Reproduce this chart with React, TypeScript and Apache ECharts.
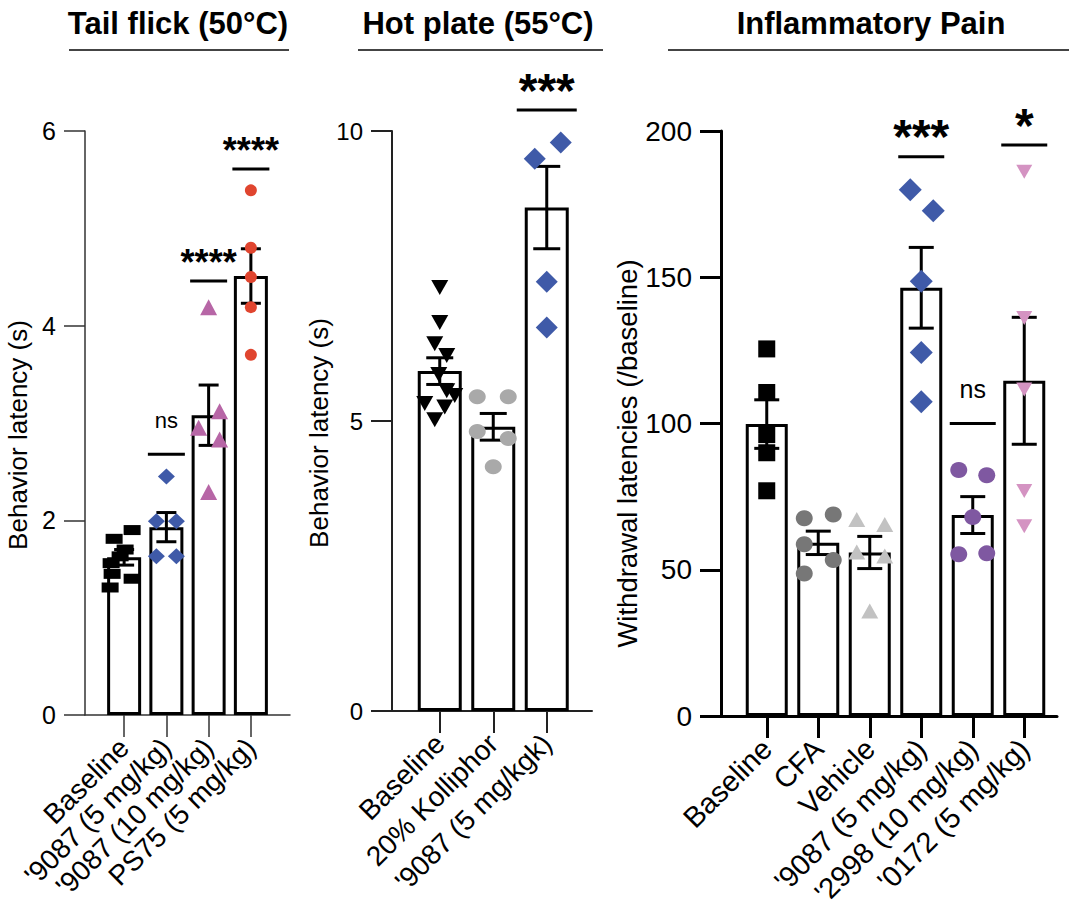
import React, { useEffect, useRef } from "react";
import * as echarts from "echarts";

const FONT = "'Liberation Sans', Arial, Helvetica, sans-serif";

// ---------- Tail flick (50°C) ----------
const tailCategories = ["Baseline", "'9087 (5 mg/kg)", "'9087 (10 mg/kg)", "PS75 (5 mg/kg)"];
const tailMeans = [1.62, 1.93, 3.08, 4.51];
const tailSEM = [0.08, 0.15, 0.31, 0.28];
const tailBaseline = [1.9, 1.81, 1.7, 1.63, 1.56, 1.45, 1.4, 1.31];
const tailBaselineJitter = [8, -10, 1, -4, -13, -12, 8, -14];
const tail9087Low = [2.45, 1.99, 1.99, 1.63, 1.63];
const tail9087LowJitter = [0, -10, 10, -10, 10];
const tail9087High = [4.19, 3.12, 2.95, 2.83, 2.29];
const tail9087HighJitter = [0, 11, -10, 11, 0];
const tailPS75 = [5.39, 4.8, 4.5, 4.19, 3.7];
const tailPS75Jitter = [0, 0, 0, 0, 0];
const tailSigIndex = [1, 2, 3];
const tailSigHeight = [2.68, 4.46, 5.61];
const tailSigLabels = ["ns", "****", "****"];

// ---------- Hot plate (55°C) ----------
const hotCategories = ["Baseline", "20% Kolliphor", "'9087 (5 mg/kgk)"];
const hotMeans = [5.86, 4.9, 8.68];
const hotSEM = [0.23, 0.23, 0.71];
const hotBaseline = [7.3, 6.7, 6.33, 6.13, 5.8, 5.52, 5.44, 5.3, 5.24, 5.02];
const hotBaselineJitter = [0, 0, -5, 7, -1, 7, 15, -15, 5, -5];
const hotKolliphor = [5.42, 5.42, 4.82, 4.7, 4.21];
const hotKolliphorJitter = [-16, 15, -16, 15, 0];
const hot9087 = [9.8, 9.52, 7.4, 6.61];
const hot9087Jitter = [14, -12, 0, 0];
const hotSigIndex = [2];
const hotSigHeight = [10.36];
const hotSigLabels = ["***"];

// ---------- Inflammatory Pain ----------
const inflCategories = ["Baseline", "CFA", "Vehicle", "'9087 (5 mg/kg)", "'2998 (10 mg/kg)", "'0172 (5 mg/kg)"];
const inflMeans = [99.8, 59.2, 55.9, 146.4, 68.7, 114.6];
const inflSEM = [8.3, 4.0, 5.5, 13.8, 6.3, 21.7];
const inflBaseline = [125.5, 110.6, 96.2, 90.0, 77.0];
const inflBaselineJitter = [0, 0, 0, 0, 0];
const inflCFA = [68.9, 67.6, 58.7, 53.3, 48.7];
const inflCFAJitter = [15, -14, -14, 15, -14];
const inflVehicle = [67.2, 65.5, 56.1, 54.7, 35.9];
const inflVehicleJitter = [-13, 15, -13, 15, 0];
const infl9087 = [179.9, 172.7, 148.6, 124.3, 107.4];
const infl9087Jitter = [-11, 12, 0, 0, 0];
const infl2998 = [84.1, 82.3, 68.0, 55.3, 55.6];
const infl2998Jitter = [-14, 14, 0, -14, 14];
const infl0172 = [186.1, 136.1, 111.6, 76.9, 64.9];
const infl0172Jitter = [0, 0, 0, 0, 0];
const inflSigIndex = [3, 4, 5];
const inflSigHeight = [191.2, 100, 195.2];
const inflSigLabels = ["***", "ns", "*"];

const panelTitles = ["Tail flick (50°C)", "Hot plate (55°C)", "Inflammatory Pain"];

interface Group {
  values: number[];
  jitter: number[];
  symbol: string;
  size: number | number[];
  color: string;
  rotate?: number;
}

interface PanelCfg {
  categories: string[];
  means: number[];
  sem: number[];
  groups: Group[];
  sigIndex: number[];
  sigHeight: number[];
  sigLabels: string[];
  yMax: number;
  yInterval: number;
  yName: string;
  axisX: number;
  axisEnd: number;
  catLeft: number;
  catWidth: number;
  top: number;
  bottom: number;
  axisColor: string;
  axisWidth: number;
  tickFont: number;
  nameFont: number;
  nameGap: number;
  nameShift: number;
  catFont: number;
  barWidth: number;
  capWidth: number;
  sigWidth: number;
  starFont: number;
  nsFont: number;
  starGap: number;
  nsGap: number;
  titleX: number;
  lineX1: number;
  lineX2: number;
}

const panels: PanelCfg[] = [
  {
    categories: tailCategories,
    means: tailMeans,
    sem: tailSEM,
    groups: [
      { values: tailBaseline, jitter: tailBaselineJitter, symbol: "rect", size: [17, 10], color: "#000000" },
      { values: tail9087Low, jitter: tail9087LowJitter, symbol: "diamond", size: [17, 16], color: "#3F5AA8" },
      { values: tail9087High, jitter: tail9087HighJitter, symbol: "triangle", size: [17, 16], color: "#B766A6" },
      { values: tailPS75, jitter: tailPS75Jitter, symbol: "circle", size: 12, color: "#E0452F" },
    ],
    sigIndex: tailSigIndex,
    sigHeight: tailSigHeight,
    sigLabels: tailSigLabels,
    yMax: 6,
    yInterval: 2,
    yName: "Behavior latency (s)",
    axisX: 85,
    axisEnd: 290,
    catLeft: 103,
    catWidth: 169,
    top: 131,
    bottom: 715,
    axisColor: "#333333",
    axisWidth: 1.5,
    tickFont: 25,
    nameFont: 26,
    nameGap: 54,
    nameShift: 12,
    catFont: 28,
    barWidth: 34,
    capWidth: 20,
    sigWidth: 37,
    starFont: 36,
    nsFont: 22,
    starGap: 18,
    nsGap: 34,
    titleX: 178,
    lineX1: 69,
    lineX2: 289,
  },
  {
    categories: hotCategories,
    means: hotMeans,
    sem: hotSEM,
    groups: [
      { values: hotBaseline, jitter: hotBaselineJitter, symbol: "triangle", size: [17, 15], color: "#000000", rotate: 180 },
      { values: hotKolliphor, jitter: hotKolliphorJitter, symbol: "circle", size: [17, 15], color: "#A9A9A9" },
      { values: hot9087, jitter: hot9087Jitter, symbol: "diamond", size: 22, color: "#3F5AA8" },
    ],
    sigIndex: hotSigIndex,
    sigHeight: hotSigHeight,
    sigLabels: hotSigLabels,
    yMax: 10,
    yInterval: 5,
    yName: "Behavior latency (s)",
    axisX: 392,
    axisEnd: 592,
    catLeft: 413,
    catWidth: 160.5,
    top: 131,
    bottom: 711,
    axisColor: "#222222",
    axisWidth: 2,
    tickFont: 24,
    nameFont: 26,
    nameGap: 54,
    nameShift: 12,
    catFont: 28,
    barWidth: 44,
    capWidth: 27,
    sigWidth: 60,
    starFont: 48,
    nsFont: 24,
    starGap: 20,
    nsGap: 35,
    titleX: 478,
    lineX1: 358,
    lineX2: 603,
  },
  {
    categories: inflCategories,
    means: inflMeans,
    sem: inflSEM,
    groups: [
      { values: inflBaseline, jitter: inflBaselineJitter, symbol: "rect", size: 17, color: "#000000" },
      { values: inflCFA, jitter: inflCFAJitter, symbol: "circle", size: [17, 16], color: "#777777" },
      { values: inflVehicle, jitter: inflVehicleJitter, symbol: "triangle", size: [17, 15], color: "#C2C2C2" },
      { values: infl9087, jitter: infl9087Jitter, symbol: "diamond", size: 23, color: "#3F5AA8" },
      { values: infl2998, jitter: infl2998Jitter, symbol: "circle", size: [17, 16], color: "#7F58A1" },
      { values: infl0172, jitter: infl0172Jitter, symbol: "triangle", size: [16, 14], color: "#D493C2", rotate: 180 },
    ],
    sigIndex: inflSigIndex,
    sigHeight: inflSigHeight,
    sigLabels: inflSigLabels,
    yMax: 200,
    yInterval: 50,
    yName: "Withdrawal latencies (/baseline)",
    axisX: 721,
    axisEnd: 1057,
    catLeft: 741,
    catWidth: 309,
    top: 131,
    bottom: 716,
    axisColor: "#000000",
    axisWidth: 3,
    tickFont: 28,
    nameFont: 27.5,
    nameGap: 80,
    nameShift: 30,
    catFont: 29,
    barWidth: 42,
    capWidth: 25,
    sigWidth: 46,
    starFont: 48,
    nsFont: 25,
    starGap: 20,
    nsGap: 35,
    titleX: 871,
    lineX1: 668,
    lineX2: 1069,
  },
];

function buildOption() {
  const grid: any[] = [];
  const xAxis: any[] = [];
  const yAxis: any[] = [];
  const series: any[] = [];
  const graphic: any[] = [];

  panels.forEach((p, k) => {
    const main = 2 * k;
    const ax = 2 * k + 1;
    const height = p.bottom - p.top;
    const axisLineStyle = { color: p.axisColor, width: p.axisWidth };

    grid.push({ left: p.catLeft, top: p.top, width: p.catWidth, height, outerBoundsMode: "none", containLabel: false });
    grid.push({ left: p.axisX, top: p.top, width: p.axisEnd - p.axisX, height, outerBoundsMode: "none", containLabel: false });

    xAxis.push({
      type: "category",
      gridIndex: main,
      data: p.categories,
      axisLine: { show: false },
      axisTick: { show: true, alignWithLabel: true, length: 22, lineStyle: axisLineStyle },
      axisLabel: {
        rotate: 45,
        interval: 0,
        hideOverlap: false,
        margin: 28,
        fontSize: p.catFont,
        fontFamily: FONT,
        color: "#000",
      },
      splitLine: { show: false },
    });
    xAxis.push({
      type: "value",
      gridIndex: ax,
      min: 0,
      max: 1,
      axisLine: { show: true, onZero: false, lineStyle: axisLineStyle },
      axisTick: { show: false },
      axisLabel: { show: false },
      splitLine: { show: false },
    });
    yAxis.push({
      type: "value",
      gridIndex: main,
      min: 0,
      max: p.yMax,
      interval: p.yInterval,
      show: false,
      splitLine: { show: false },
    });
    yAxis.push({
      type: "value",
      gridIndex: ax,
      min: 0,
      max: p.yMax,
      interval: p.yInterval,
      name: p.yName,
      nameLocation: "middle",
      nameGap: p.nameGap,
      nameTextStyle: {
        fontSize: p.nameFont,
        fontFamily: FONT,
        color: "#000",
        padding: [0, p.nameShift * 2, 0, 0],
      },
      axisLine: { show: true, lineStyle: axisLineStyle },
      axisTick: { show: true, length: 21, lineStyle: axisLineStyle },
      axisLabel: { margin: 29, fontSize: p.tickFont, fontFamily: FONT, color: "#000" },
      splitLine: { show: false },
    });

    // bars
    series.push({
      type: "bar",
      xAxisIndex: main,
      yAxisIndex: main,
      data: p.means,
      barWidth: p.barWidth,
      itemStyle: { color: "#ffffff", borderColor: "#000000", borderWidth: 3 },
      z: 2,
      silent: true,
    });

    // error bars (mean ± SEM)
    series.push({
      type: "custom",
      xAxisIndex: main,
      yAxisIndex: main,
      data: p.means.map((m, i) => [i, m, p.sem[i]]),
      encode: { x: 0, y: 1 },
      z: 3,
      silent: true,
      renderItem: (params: any, api: any) => {
        const x = api.value(0);
        const m = api.value(1);
        const s = api.value(2);
        const top = api.coord([x, m + s]);
        const bot = api.coord([x, m - s]);
        const half = p.capWidth / 2;
        const st = { stroke: "#000", lineWidth: 3 };
        return {
          type: "group",
          children: [
            { type: "line", shape: { x1: top[0], y1: top[1], x2: bot[0], y2: bot[1] }, style: st },
            { type: "line", shape: { x1: top[0] - half, y1: top[1], x2: top[0] + half, y2: top[1] }, style: st },
            { type: "line", shape: { x1: bot[0] - half, y1: bot[1], x2: bot[0] + half, y2: bot[1] }, style: st },
          ],
        };
      },
    });

    // individual points
    p.groups.forEach((g, gi) => {
      series.push({
        type: "scatter",
        xAxisIndex: main,
        yAxisIndex: main,
        symbol: g.symbol,
        symbolSize: g.size,
        symbolRotate: g.rotate || 0,
        itemStyle: { color: g.color, opacity: 1 },
        data: g.values.map((v, i) => ({ value: [gi, v], symbolOffset: [g.jitter[i], 0] })),
        z: 4,
        silent: true,
      });
    });

    // significance marks
    series.push({
      type: "custom",
      xAxisIndex: main,
      yAxisIndex: main,
      data: p.sigIndex.map((c, i) => [c, p.sigHeight[i]]),
      encode: { x: 0, y: 1 },
      z: 5,
      silent: true,
      clip: false,
      renderItem: (params: any, api: any) => {
        const c = api.coord([api.value(0), api.value(1)]);
        const label = p.sigLabels[params.dataIndex];
        const isStar = label.indexOf("*") >= 0;
        const half = p.sigWidth / 2;
        return {
          type: "group",
          children: [
            {
              type: "line",
              shape: { x1: c[0] - half, y1: c[1], x2: c[0] + half, y2: c[1] },
              style: { stroke: "#000", lineWidth: 3 },
            },
            {
              type: "text",
              x: c[0],
              y: c[1] - (isStar ? p.starGap : p.nsGap),
              style: {
                text: label,
                fill: "#000",
                fontSize: isStar ? p.starFont : p.nsFont,
                fontWeight: isStar ? "bold" : "normal",
                fontFamily: FONT,
                align: "center",
                verticalAlign: "middle",
              },
            },
          ],
        };
      },
    });

    // panel title and underline
    graphic.push({
      type: "text",
      x: p.titleX,
      y: 23,
      style: {
        text: panelTitles[k],
        fill: "#000",
        font: "bold 31px " + FONT,
        align: "center",
        verticalAlign: "middle",
      },
    });
    graphic.push({
      type: "line",
      shape: { x1: p.lineX1, y1: 50, x2: p.lineX2, y2: 50 },
      style: { stroke: "#444", lineWidth: 2 },
    });
  });

  return {
    animation: false,
    backgroundColor: "#ffffff",
    grid,
    xAxis,
    yAxis,
    series,
    graphic,
  };
}

export default function App() {
  const ref = useRef<HTMLDivElement>(null);
  useEffect(() => {
    if (!ref.current) return;
    const chart = echarts.init(ref.current, undefined, { renderer: "svg" });
    chart.setOption(buildOption() as any);
    return () => {
      chart.dispose();
    };
  }, []);
  return (
    <div
      ref={ref}
      style={{ position: "absolute", left: 0, top: 0, width: 1080, height: 915, background: "#fff" }}
    />
  );
}
